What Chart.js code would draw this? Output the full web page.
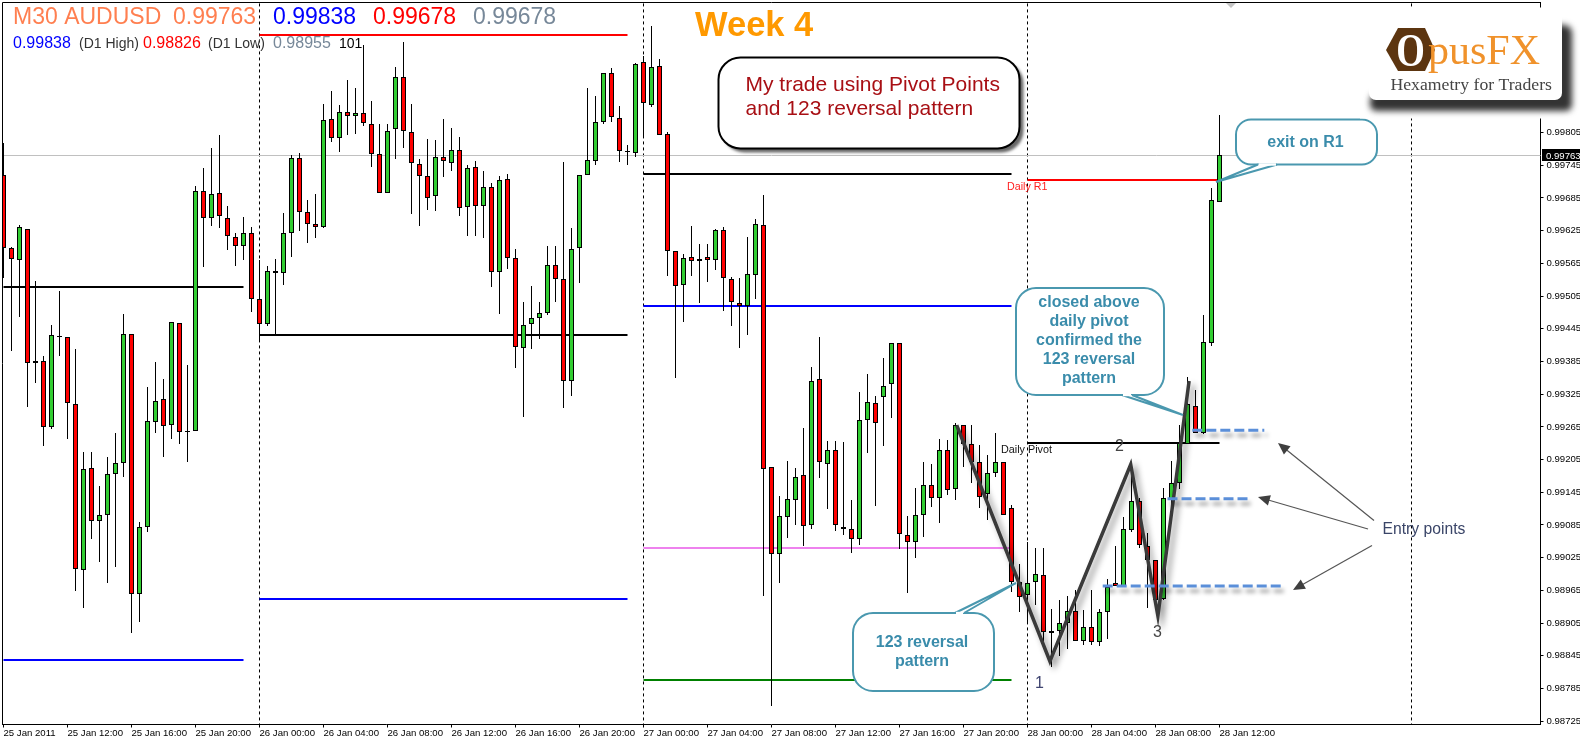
<!DOCTYPE html>
<html>
<head>
<meta charset="utf-8">
<title>M30 AUDUSD</title>
<script src="https://cdn.jsdelivr.net/npm/chart.js@4/dist/chart.umd.min.js"></script>
<style>
  html, body { margin: 0; padding: 0; background: #fff; overflow: hidden; }
  canvas { display: block; }
</style>
</head>
<body>
<canvas id="grafico" width="1580" height="742"></canvas>
<script>
const opens = [
  0.99727,0.99593,0.99571,0.99628,0.99382,0.99386,0.99265,0.99432,0.99430,0.99307,
  0.99002,0.99190,0.99092,0.99103,0.99179,0.99199,0.99435,0.98958,0.99081,0.99274,
  0.99316,0.99268,0.99455,0.99257,0.99257,0.99698,0.99648,0.99694,0.99648,0.99613,
  0.99597,0.99621,0.99500,0.99454,0.99551,0.99547,0.99621,0.99758,0.99659,0.99637,
  0.99632,0.99830,0.99795,0.99843,0.99835,0.99841,0.99821,0.99766,0.99694,0.99811,
  0.99907,0.99806,0.99747,0.99725,0.99688,0.99760,0.99749,0.99773,0.99668,0.99742,
  0.99670,0.99705,0.99549,0.99720,0.99575,0.99410,0.99454,0.99465,0.99474,0.99562,
  0.99536,0.99349,0.99593,0.99727,0.99753,0.99824,0.99914,0.99832,0.99771,0.99767,
  0.99934,0.99855,0.99927,0.99802,0.99588,0.99525,0.99577,0.99569,0.99577,0.99571,
  0.99626,0.99536,0.99492,0.99487,0.99544,0.99635,0.99191,0.99032,0.99100,0.99131,
  0.99177,0.99085,0.99353,0.99197,0.99223,0.99081,0.99078,0.99059,0.99278,0.99309,
  0.99320,0.99344,0.99419,0.99067,0.99054,0.99103,0.99158,0.99135,0.99223,0.99151,
  0.99268,0.99234,0.99201,0.99142,0.99180,0.99201,0.99116,0.98980,0.98957,0.98980,
  0.98993,0.98887,0.98891,0.98905,0.98927,0.98872,0.98898,0.98870,0.98925,0.98979,
  0.98973,0.99076,0.99129,0.99046,0.99021,0.98949,0.99133,0.99162,0.99234,0.99303,
  0.99254,0.99419,0.99678
];
const closes = [
  0.99593,0.99573,0.99632,0.99382,0.99386,0.99265,0.99433,0.99432,0.99309,0.99004,
  0.99188,0.99092,0.99103,0.99179,0.99199,0.99435,0.98958,0.99081,0.99276,0.99312,
  0.99267,0.99457,0.99256,0.99257,0.99698,0.99648,0.99692,0.99652,0.99615,0.99597,
  0.99621,0.99500,0.99454,0.99551,0.99547,0.99621,0.99758,0.99659,0.99637,0.99632,
  0.99828,0.99795,0.99843,0.99835,0.99841,0.99822,0.99766,0.99694,0.99808,0.99907,
  0.99808,0.99749,0.99725,0.99685,0.99760,0.99753,0.99773,0.99667,0.99740,0.99670,
  0.99705,0.99549,0.99718,0.99575,0.99412,0.99452,0.99465,0.99474,0.99562,0.99536,
  0.99349,0.99591,0.99727,0.99755,0.99824,0.99914,0.99833,0.99771,0.99771,0.99931,
  0.99859,0.99925,0.99800,0.99588,0.99523,0.99575,0.99569,0.99573,0.99571,0.99626,
  0.99538,0.99494,0.99487,0.99545,0.99637,0.99188,0.99032,0.99101,0.99133,0.99173,
  0.99083,0.99349,0.99201,0.99223,0.99085,0.99078,0.99059,0.99278,0.99311,0.99272,
  0.99340,0.99419,0.99068,0.99054,0.99103,0.99158,0.99135,0.99223,0.99149,0.99268,
  0.99234,0.99201,0.99136,0.99180,0.99201,0.99103,0.98980,0.98953,0.98979,0.98995,
  0.98889,0.98891,0.98905,0.98927,0.98872,0.98898,0.98870,0.98925,0.98971,0.98973,
  0.99078,0.99129,0.99048,0.99021,0.98947,0.99135,0.99162,0.99235,0.99307,0.99254,
  0.99421,0.99681,0.99763
];
const highs = [
  0.99786,0.99595,0.99635,0.99628,0.99533,0.99395,0.99452,0.99514,0.99430,0.99408,
  0.99219,0.99219,0.99157,0.99210,0.99254,0.99472,0.99435,0.99090,0.99338,0.99384,
  0.99353,0.99457,0.99455,0.99378,0.99707,0.99740,0.99777,0.99800,0.99670,0.99621,
  0.99650,0.99632,0.99571,0.99560,0.99573,0.99657,0.99764,0.99767,0.99681,0.99692,
  0.99857,0.99881,0.99855,0.99901,0.99887,0.99966,0.99863,0.99821,0.99821,0.99925,
  0.99971,0.99857,0.99756,0.99793,0.99791,0.99830,0.99813,0.99797,0.99745,0.99753,
  0.99734,0.99712,0.99725,0.99729,0.99591,0.99494,0.99523,0.99494,0.99597,0.99597,
  0.99751,0.99630,0.99727,0.99887,0.99872,0.99914,0.99923,0.99854,0.99782,0.99933,
  0.99945,1.00000,0.99940,0.99806,0.99588,0.99582,0.99633,0.99600,0.99600,0.99628,
  0.99632,0.99540,0.99538,0.99613,0.99646,0.99690,0.99191,0.99138,0.99202,0.99190,
  0.99263,0.99375,0.99430,0.99239,0.99239,0.99237,0.99131,0.99329,0.99362,0.99322,
  0.99391,0.99419,0.99419,0.99101,0.99153,0.99201,0.99197,0.99243,0.99241,0.99272,
  0.99268,0.99268,0.99232,0.99213,0.99254,0.99201,0.99122,0.99013,0.99054,0.99043,
  0.99043,0.98931,0.98947,0.98955,0.98966,0.98929,0.98966,0.98931,0.98986,0.99046,
  0.99100,0.99201,0.99135,0.99070,0.99021,0.99153,0.99202,0.99268,0.99356,0.99333,
  0.99470,0.99703,0.99838
];
const lows = [
  0.99538,0.99404,0.99467,0.99301,0.99345,0.99230,0.99261,0.99395,0.99243,0.98964,
  0.98933,0.99059,0.99017,0.98979,0.99008,0.99173,0.98887,0.98907,0.99072,0.99254,
  0.99210,0.99243,0.99234,0.99201,0.99257,0.99558,0.99633,0.99630,0.99589,0.99560,
  0.99571,0.99476,0.99423,0.99450,0.99432,0.99525,0.99577,0.99624,0.99602,0.99612,
  0.99630,0.99788,0.99769,0.99800,0.99802,0.99817,0.99742,0.99694,0.99694,0.99756,
  0.99777,0.99655,0.99633,0.99663,0.99661,0.99723,0.99734,0.99652,0.99615,0.99615,
  0.99612,0.99522,0.99472,0.99555,0.99373,0.99283,0.99408,0.99426,0.99470,0.99494,
  0.99300,0.99322,0.99529,0.99727,0.99745,0.99821,0.99824,0.99751,0.99745,0.99760,
  0.99799,0.99852,0.99800,0.99542,0.99355,0.99457,0.99542,0.99492,0.99531,0.99553,
  0.99478,0.99450,0.99410,0.99433,0.99500,0.98955,0.98753,0.98979,0.99061,0.99085,
  0.99046,0.99078,0.99171,0.99114,0.99074,0.99067,0.99034,0.99048,0.99217,0.99120,
  0.99230,0.99281,0.99041,0.98960,0.99024,0.99063,0.99118,0.99089,0.99140,0.99131,
  0.99191,0.99162,0.99116,0.99094,0.99173,0.99103,0.98962,0.98925,0.98907,0.98938,
  0.98869,0.98825,0.98845,0.98858,0.98872,0.98865,0.98865,0.98863,0.98876,0.98973,
  0.98973,0.99072,0.99043,0.98933,0.98944,0.98947,0.99118,0.99151,0.99234,0.99254,
  0.99252,0.99413,0.99678
];

const precoAtual = 0.99763;
const inicioDia = [32, 80, 128, 176];
const rotulosX = [
  '25 Jan 2011','25 Jan 12:00','25 Jan 16:00','25 Jan 20:00',
  '26 Jan 00:00','26 Jan 04:00','26 Jan 08:00','26 Jan 12:00','26 Jan 16:00','26 Jan 20:00',
  '27 Jan 00:00','27 Jan 04:00','27 Jan 08:00','27 Jan 12:00','27 Jan 16:00','27 Jan 20:00',
  '28 Jan 00:00','28 Jan 04:00','28 Jan 08:00','28 Jan 12:00'
];
const precosY = [
  0.99805,0.99745,0.99685,0.99625,0.99565,0.99505,0.99445,0.99385,0.99325,0.99265,
  0.99205,0.99145,0.99085,0.99025,0.98965,0.98905,0.98845,0.98785,0.98725
];

// niveis diarios: inicio e fim em barras, preco
const nivelInicio = [0, 0, 32, 32, 32, 80, 80, 80, 80, 128, 128];
const nivelFim =    [30, 30, 78, 78, 78, 126, 126, 126, 126, 152, 152];
const nivelPreco = [0.99522, 0.98837, 0.99984, 0.99434, 0.98949, 0.99729, 0.99487, 0.99043, 0.98801, 0.99718, 0.99236];
const nivelCor = ['#000', '#0000ff', '#ff0000', '#000', '#0000ff', '#000', '#0000ff', '#ee82ee', '#008000', '#ff0000', '#000'];

const zigzagBarra = [119.15, 130.8, 140.9, 144.3, 148.2];
const zigzagPreco = [0.99268, 0.98835, 0.99196, 0.98918, 0.99349];

const entradaInicio = [148.6, 145.5, 137.4];
const entradaFim = [157.6, 155.6, 159.7];
const entradaPreco = [0.99259, 0.99133, 0.98973];

const VERDE = '#32cd32';
const VERMELHO = '#ff0000';
const TEAL = '#4a98af';
const TEAL_TEXTO = '#3a8cab';
const FONTE = '"Liberation Sans", Arial, sans-serif';
const SERIF = '"Liberation Serif", serif';

const ctx = document.getElementById('grafico').getContext('2d');

function linhaHorizontal(de, ate, preco, extra) {
  return Object.assign({
    type: 'line',
    data: [{ x: de, y: preco }, { x: ate, y: preco }],
    pointRadius: 0,
    borderWidth: 2,
    fill: false,
    snap: true
  }, extra);
}

const separadores = inicioDia.map(barra => ({
  type: 'line',
  data: [{ x: barra, y: 0.98 }, { x: barra, y: 1.01 }],
  pointRadius: 0,
  borderWidth: 1,
  borderColor: '#000',
  borderDash: [3, 3],
  order: 7
}));

const niveis = nivelPreco.map((preco, i) => linhaHorizontal(nivelInicio[i], nivelFim[i], preco, {
  borderColor: nivelCor[i],
  order: 5
}));

const linhaPreco = linhaHorizontal(-1, 193, precoAtual, { borderColor: '#c0c0c0', borderWidth: 1, order: 6 });

const velas = {
  type: 'bar',
  data: opens.map((o, i) => ({ x: i, y: [o, closes[i]] })),
  backgroundColor: opens.map((o, i) => (closes[i] >= o ? VERDE : VERMELHO)),
  borderColor: '#000',
  borderWidth: 1,
  borderSkipped: false,
  inflateAmount: 0,
  maxBarThickness: 5,
  order: 3
};

const pavios = {
  type: 'bar',
  data: highs.map((h, i) => ({ x: i, y: [lows[i], h] })),
  backgroundColor: '#000',
  borderWidth: 0,
  inflateAmount: 0,
  maxBarThickness: 1,
  order: 4
};

const zigzag = {
  type: 'line',
  data: zigzagBarra.map((x, i) => ({ x, y: zigzagPreco[i] })),
  borderColor: '#3a3a3a',
  borderWidth: 3.5,
  borderJoinStyle: 'miter',
  pointRadius: 0,
  tension: 0,
  order: 2,
  sombra: { cor: 'rgba(0,0,0,0.45)', blur: 6, dx: 4, dy: 4 }
};

const entradas = entradaPreco.map((preco, i) => linhaHorizontal(entradaInicio[i], entradaFim[i], preco, {
  borderColor: '#5b8fd9',
  borderWidth: 3,
  borderDash: [10, 4],
  order: 1,
  snap: false,
  sombra: { cor: 'rgba(0,0,0,0.4)', blur: 4, dx: 3, dy: 5 }
}));

const ajustePixels = {
  id: 'ajustePixels',
  afterDatasetsUpdate(chart) {
    chart.data.datasets.forEach((ds, i) => {
      const meta = chart.getDatasetMeta(i);
      if (ds.type === 'bar') {
        meta.data.forEach(el => {
          el.y = Math.round(el.y);
          el.base = Math.round(el.base);
          if (el.y === el.base) el.base = el.y + 1;
        });
      } else if (ds.snap) {
        const meio = ds.borderWidth % 2 ? 0.5 : 0;
        meta.data.forEach(pt => { pt.y = meio ? Math.floor(pt.y) + meio : Math.round(pt.y); });
      }
    });
  },
  beforeDatasetDraw(chart, args) {
    const s = chart.data.datasets[args.index].sombra;
    if (!s) return;
    const c = chart.ctx;
    c.save();
    c.shadowColor = s.cor;
    c.shadowBlur = s.blur;
    c.shadowOffsetX = s.dx;
    c.shadowOffsetY = s.dy;
  },
  afterDatasetDraw(chart, args) {
    if (chart.data.datasets[args.index].sombra) chart.ctx.restore();
  }
};

function texto(c, str, x, y, fonte, cor, alinhar) {
  c.font = fonte;
  c.fillStyle = cor;
  c.textAlign = alinhar || 'left';
  c.textBaseline = 'alphabetic';
  c.fillText(str, x, y);
}

function balao(c, x, y, w, h, raio, base1, base2, ponta) {
  c.save();
  c.lineWidth = 2;
  c.strokeStyle = TEAL;
  c.fillStyle = '#fff';
  c.beginPath();
  c.roundRect(x, y, w, h, raio);
  c.fill();
  c.stroke();
  c.beginPath();
  c.moveTo(base1[0], base1[1]);
  c.lineTo(ponta[0], ponta[1]);
  c.lineTo(base2[0], base2[1]);
  c.fill();
  c.stroke();
  c.beginPath();
  c.moveTo(base1[0] + 1, base1[1]);
  c.lineTo(base2[0] - 1, base2[1]);
  c.strokeStyle = '#fff';
  c.lineWidth = 2.4;
  c.stroke();
  c.restore();
}

function seta(c, x1, y1, x2, y2) {
  const ang = Math.atan2(y2 - y1, x2 - x1);
  c.save();
  c.strokeStyle = '#555';
  c.lineWidth = 1.2;
  c.beginPath();
  c.moveTo(x1, y1);
  c.lineTo(x2 - 8 * Math.cos(ang), y2 - 8 * Math.sin(ang));
  c.stroke();
  c.fillStyle = '#3f3f3f';
  c.beginPath();
  c.moveTo(x2, y2);
  c.lineTo(x2 - 13 * Math.cos(ang - 0.42), y2 - 13 * Math.sin(ang - 0.42));
  c.lineTo(x2 - 13 * Math.cos(ang + 0.42), y2 - 13 * Math.sin(ang + 0.42));
  c.closePath();
  c.fill();
  c.restore();
}

function logotipo(c) {
  c.save();
  c.fillStyle = '#fff';
  c.fillRect(1360, 7.5, 220, 111);
  c.filter = 'blur(3px)';
  c.fillStyle = '#333';
  c.beginPath();
  c.roundRect(1380, 25, 192, 86, 8);
  c.roundRect(1370, 94, 202, 17, 6);
  c.fill();
  c.filter = 'none';
  c.fillStyle = '#fff';
  c.beginPath();
  c.roundRect(1369, 10, 193, 90, 7);
  c.fill();
  c.restore();

  c.save();
  c.fillStyle = '#5c3510';
  c.beginPath();
  c.moveTo(1386, 50);
  c.lineTo(1398, 28);
  c.lineTo(1425, 28);
  c.lineTo(1435, 50);
  c.lineTo(1425, 71);
  c.lineTo(1398, 71);
  c.closePath();
  c.fill();
  c.translate(1410.5, 65.5);
  c.scale(0.8, 1);
  texto(c, 'O', 0, 0, 'bold 46px ' + SERIF, '#fff', 'center');
  c.restore();

  texto(c, 'pusFX', 1428, 64, '42px ' + SERIF, '#f0922b');
  texto(c, 'Hexametry for Traders', 1390.5, 90, '17.7px ' + SERIF, '#444');
}

const anotacoes = {
  id: 'anotacoes',
  afterDraw(chart) {
    const c = chart.ctx;
    const a = chart.chartArea;
    c.save();

    // moldura: os eixos ja desenham baixo e direita
    c.strokeStyle = '#000';
    c.lineWidth = 1;
    c.beginPath();
    c.moveTo(a.left, a.bottom);
    c.lineTo(a.left, a.top);
    c.lineTo(a.right, a.top);
    c.stroke();

    // marcador do navegador no topo
    c.fillStyle = '#c4c4c4';
    c.beginPath();
    c.moveTo(1226, 3);
    c.lineTo(1236, 3);
    c.lineTo(1231, 8);
    c.closePath();
    c.fill();

    // etiqueta do preco atual
    const yPreco = Math.floor(chart.scales.y.getPixelForValue(precoAtual));
    c.fillStyle = '#000';
    c.fillRect(1542, yPreco - 6, 38, 12);
    texto(c, precoAtual.toFixed(5), 1546, yPreco + 3.5, '9.6px ' + FONTE, '#fff');

    // cabecalho
    texto(c, 'M30 AUDUSD', 13, 23.5, '23px ' + FONTE, '#ff7f50');
    texto(c, '0.99763', 173, 23.5, '23px ' + FONTE, '#ff7f50');
    texto(c, '0.99838', 273, 23.5, '23px ' + FONTE, '#0000ff');
    texto(c, '0.99678', 373, 23.5, '23px ' + FONTE, '#ff0000');
    texto(c, '0.99678', 473, 23.5, '23px ' + FONTE, '#778899');
    texto(c, '0.99838', 13, 48, '16px ' + FONTE, '#0000ff');
    texto(c, '(D1 High)', 79, 48, '14px ' + FONTE, '#333');
    texto(c, '0.98826', 143, 48, '16px ' + FONTE, '#ff0000');
    texto(c, '(D1 Low)', 208, 48, '14px ' + FONTE, '#333');
    texto(c, '0.98955', 273, 48, '16px ' + FONTE, '#778899');
    texto(c, '101', 339, 48, '14px ' + FONTE, '#000');

    texto(c, 'Week 4', 695, 35.7, 'bold 34.5px ' + FONTE, '#ff9900');

    // caixa principal
    c.save();
    c.shadowColor = 'rgba(0,0,0,0.6)';
    c.shadowBlur = 3;
    c.shadowOffsetX = 4;
    c.shadowOffsetY = 4;
    c.fillStyle = '#fff';
    c.strokeStyle = '#000';
    c.lineWidth = 2;
    c.beginPath();
    c.roundRect(718.5, 57.5, 301, 91, 22);
    c.fill();
    c.shadowColor = 'transparent';
    c.stroke();
    c.restore();
    texto(c, 'My trade using Pivot Points', 745.5, 90.5, '21px ' + FONTE, '#a80f14');
    texto(c, 'and 123 reversal pattern', 745.5, 115, '21px ' + FONTE, '#a80f14');

    // baloes
    balao(c, 1016, 288, 148, 107, 20, [1122, 395], [1132, 395], [1183, 415]);
    const linhas = ['closed above', 'daily pivot', 'confirmed the', '123 reversal', 'pattern'];
    linhas.forEach((l, i) => texto(c, l, 1089, 307 + i * 19, 'bold 16px ' + FONTE, TEAL_TEXTO, 'center'));

    balao(c, 853, 613, 141, 78, 20, [955, 613], [964, 613], [1016, 583]);
    texto(c, '123 reversal', 922, 646.5, 'bold 16px ' + FONTE, TEAL_TEXTO, 'center');
    texto(c, 'pattern', 922, 665.5, 'bold 16px ' + FONTE, TEAL_TEXTO, 'center');

    balao(c, 1236, 119.5, 141, 45, 15, [1258, 164.5], [1277, 164.5], [1216, 182]);
    texto(c, 'exit on R1', 1305.5, 146.5, 'bold 16px ' + FONTE, TEAL_TEXTO, 'center');

    // rotulos dos niveis e do padrao
    texto(c, 'Daily R1', 1007, 190, '10.7px ' + FONTE, '#ff2020');
    texto(c, 'Daily Pivot', 1001, 453, '10.8px ' + FONTE, '#111');
    texto(c, '1', 1035, 688, '16px ' + FONTE, '#3f4470');
    texto(c, '2', 1115, 451, '16px ' + FONTE, '#454545');
    texto(c, '3', 1153, 637, '16px ' + FONTE, '#454545');

    seta(c, 1374, 520.5, 1278, 443);
    seta(c, 1368, 529, 1258, 497);
    seta(c, 1372, 545.5, 1293, 590);
    texto(c, 'Entry points', 1382.5, 534, '15.7px ' + FONTE, '#3a4568');

    logotipo(c);
    c.restore();
  }
};

new Chart(ctx, {
  type: 'bar',
  data: {
    datasets: [...separadores, linhaPreco, ...niveis, pavios, velas, zigzag, ...entradas]
  },
  options: {
    responsive: false,
    animation: false,
    layout: { padding: { left: 2.5, top: 2.5, right: 0, bottom: 0 } },
    datasets: { bar: { grouped: false } },
    plugins: { legend: { display: false }, tooltip: { enabled: false } },
    scales: {
      x: {
        type: 'linear',
        offset: false,
        min: -0.125,
        max: 192.125,
        grid: { offset: false, drawOnChartArea: false, drawTicks: true, tickLength: 3, tickColor: '#000' },
        border: { display: true, color: '#000' },
        afterBuildTicks(escala) { escala.ticks = rotulosX.map((r, i) => ({ value: i * 8 })); },
        afterFit(escala) {
          escala.height = 17.5;
          escala.paddingLeft = 0;
          escala.paddingRight = 0;
        },
        ticks: {
          autoSkip: false,
          maxRotation: 0,
          align: 'start',
          padding: 0,
          color: '#000',
          font: { family: FONTE, size: 9.6 },
          callback: v => rotulosX[v / 8]
        }
      },
      y: {
        position: 'right',
        min: 0.98719,
        max: 1.000435,
        grid: { drawOnChartArea: false, drawTicks: true, tickLength: 3, tickColor: '#000' },
        border: { display: true, color: '#000' },
        afterBuildTicks(escala) { escala.ticks = precosY.map(v => ({ value: v })); },
        afterFit(escala) {
          escala.width = 39.5;
          escala.paddingTop = 0;
          escala.paddingBottom = 0;
        },
        ticks: {
          autoSkip: false,
          padding: 3,
          color: '#000',
          font: { family: FONTE, size: 9.6 },
          callback: v => v.toFixed(5)
        }
      }
    }
  },
  plugins: [ajustePixels, anotacoes]
});
</script>
</body>
</html>
